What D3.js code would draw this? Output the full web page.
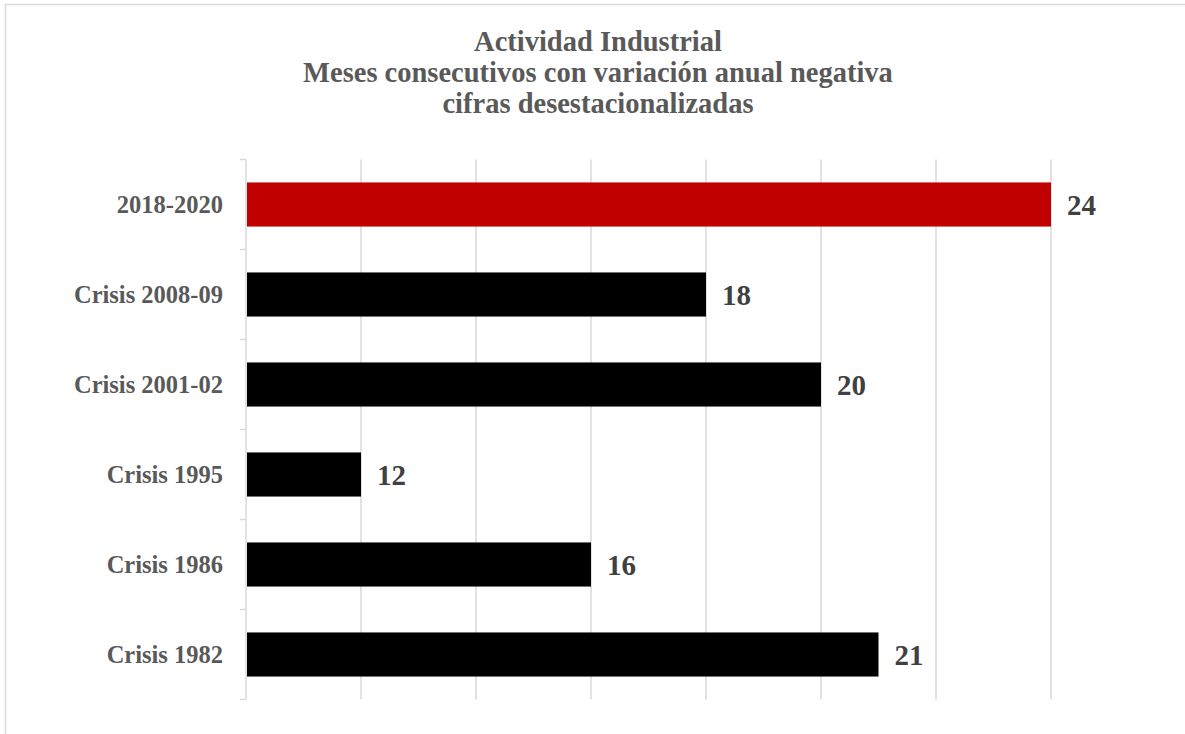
<!DOCTYPE html>
<html>
<head>
<meta charset="utf-8">
<script src="https://cdn.jsdelivr.net/npm/d3@7"></script>
<style>
  body { margin: 0; background: #fff; }
  text { font-family: "Liberation Serif", "Times New Roman", serif; font-weight: bold; }
</style>
</head>
<body>
<div id="chart"></div>
<script>
// chart data
const categories = ["2018-2020", "Crisis 2008-09", "Crisis 2001-02", "Crisis 1995", "Crisis 1986", "Crisis 1982"]
const values = [24, 18, 20, 12, 16, 21]
const barColors = ["#c00000", "#000000", "#000000", "#000000", "#000000", "#000000"]
const xTicks = [10, 12, 14, 16, 18, 20, 22, 24]
const titleLines = ["Actividad Industrial", "Meses consecutivos con variación anual negativa", "cifras desestacionalizadas"]

const width = 1185
const height = 734

const svg = d3.select("#chart")
    .append("svg")
    .attr("width", width)
    .attr("height", height)

// outer frame, only the top and left edges fall inside the window
svg.append("rect")
    .attr("x", 5.5)
    .attr("y", 4.5)
    .attr("width", 1300)
    .attr("height", 900)
    .attr("fill", "none")
    .attr("stroke", "#d9d9d9")
    .attr("stroke-width", 1.5)

// title
svg.append("g")
    .selectAll("text")
    .data(titleLines)
    .join("text")
    .attr("x", 598)
    .attr("y", (d, i) => 51 + i * 31)
    .attr("text-anchor", "middle")
    .attr("fill", "#595959")
    .attr("font-size", "28.5px")
    .text(d => d)

// scales
const x = d3.scaleLinear().domain([10, 24]).range([246, 1051])
const y = d3.scaleBand()
    .domain(categories)
    .range([159.5, 699.5])
    .paddingInner(0.51)
    .paddingOuter(0.255)

// vertical gridlines
svg.append("g")
    .selectAll("line")
    .data(xTicks.slice(1))
    .join("line")
    .attr("x1", d => x(d))
    .attr("x2", d => x(d))
    .attr("y1", 159.5)
    .attr("y2", 699.5)
    .attr("stroke", "#d9d9d9")
    .attr("stroke-width", 1.5)

// bars
svg.append("g")
    .selectAll("rect")
    .data(categories)
    .join("rect")
    .attr("x", x(10) + 1)
    .attr("y", d => y(d))
    .attr("width", (d, i) => x(values[i]) - x(10) - 1)
    .attr("height", y.bandwidth())
    .attr("fill", (d, i) => barColors[i])

// category axis with ticks between the bands
const yAxis = svg.append("g")
yAxis.append("line")
    .attr("x1", 246).attr("x2", 246)
    .attr("y1", 159.5).attr("y2", 699.5)
    .attr("stroke", "#d9d9d9")
    .attr("stroke-width", 1.5)
yAxis.selectAll(".tick")
    .data(d3.range(categories.length + 1))
    .join("line")
    .attr("class", "tick")
    .attr("x1", 240).attr("x2", 246)
    .attr("y1", i => 159.5 + i * y.step())
    .attr("y2", i => 159.5 + i * y.step())
    .attr("stroke", "#d9d9d9")
    .attr("stroke-width", 1.5)
yAxis.selectAll("text")
    .data(categories)
    .join("text")
    .attr("x", 223)
    .attr("y", d => y(d) + y.bandwidth() / 2)
    .attr("dy", "0.35em")
    .attr("text-anchor", "end")
    .attr("fill", "#595959")
    .attr("font-size", "24.5px")
    .text(d => d)

// value labels
svg.append("g")
    .selectAll("text")
    .data(categories)
    .join("text")
    .attr("x", (d, i) => x(values[i]) + 16)
    .attr("y", d => y(d) + y.bandwidth() / 2)
    .attr("dy", "0.35em")
    .attr("fill", "#404040")
    .attr("font-size", "29px")
    .text((d, i) => values[i])
</script>
</body>
</html>
